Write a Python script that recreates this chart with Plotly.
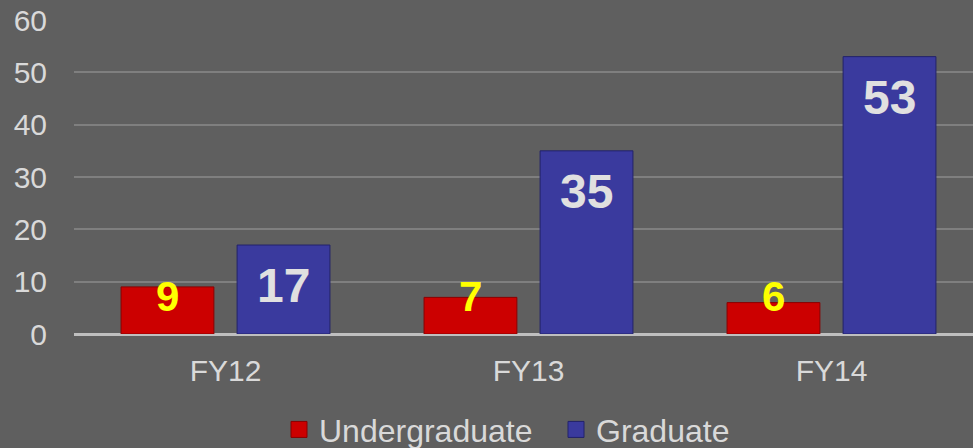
import plotly.graph_objects as go

categories = ["FY12", "FY13", "FY14"]
undergrad = [9, 7, 6]
graduate = [17, 35, 53]
y_ticks = [0, 10, 20, 30, 40, 50, 60]

BARGAP = 0.234
BARGROUPGAP = 0.2
FONT = "Liberation Sans, Arial, sans-serif"
TXT = "#d9d9d9"
RED, RED_EDGE = "#cc0000", "#8a0000"
BLUE, BLUE_EDGE = "#3a3a9e", "#22226a"

fig = go.Figure()
fig.add_trace(go.Bar(
    name="Undergraduate", x=categories, y=undergrad, legendgroup="u", showlegend=False,
    marker=dict(color=RED, line=dict(color=RED_EDGE, width=1)),
))
fig.add_trace(go.Bar(
    name="Graduate", x=categories, y=graduate, legendgroup="g", showlegend=False,
    marker=dict(color=BLUE, line=dict(color=BLUE_EDGE, width=1)),
))
# legend proxies (bigger square keys)
for name, grp, c, e in [("Undergraduate", "u", RED, RED_EDGE), ("Graduate", "g", BLUE, BLUE_EDGE)]:
    fig.add_trace(go.Scatter(
        name=name, x=[None], y=[None], mode="markers", legendgroup=grp,
        marker=dict(symbol="square", size=18, color=c, line=dict(color=e, width=1)),
        hoverinfo="skip",
    ))

slot = (1 - BARGAP) / 2
off = slot / 2

annotations = []
for i, v in enumerate(undergrad):
    annotations.append(dict(
        x=i - off, y=0, xref="x", yref="y", text=str(v), showarrow=False,
        yanchor="bottom", yshift=12,
        font=dict(family=FONT, size=42, color="#ffff00", weight="bold"),
    ))
for i, v in enumerate(graduate):
    annotations.append(dict(
        x=i + off, y=v, xref="x", yref="y", text=str(v), showarrow=False,
        yanchor="top", yshift=-12,
        font=dict(family=FONT, size=48, color="#e0e0e0", weight="bold"),
    ))

fig.update_layout(
    width=973, height=448,
    margin=dict(l=74, r=0, t=20, b=114),
    paper_bgcolor="#5f5f5f", plot_bgcolor="#5f5f5f",
    barmode="group", bargap=BARGAP, bargroupgap=BARGROUPGAP,
    font=dict(family=FONT, size=30, color=TXT),
    showlegend=True,
    legend=dict(
        orientation="h", xref="container", yref="container",
        x=279 / 973, xanchor="left", y=0.041, yanchor="middle",
        font=dict(family=FONT, size=32, color=TXT),
        bgcolor="rgba(0,0,0,0)", itemwidth=30, itemsizing="trace",
        entrywidth=232, entrywidthmode="pixels",
    ),
    annotations=annotations,
    xaxis=dict(
        type="category", range=[-0.5, 2.467],
        showgrid=False, showline=False, zeroline=False,
        tickfont=dict(family=FONT, size=30, color=TXT),
        ticks="", ticklabelstandoff=16,
    ),
    yaxis=dict(
        range=[0, 60], tickvals=y_ticks,
        showgrid=True, gridcolor="#7f7f7f", gridwidth=1.5,
        zeroline=True, zerolinecolor="#bfbfbf", zerolinewidth=2.5,
        showline=False, ticks="",
        tickfont=dict(family=FONT, size=30, color=TXT),
        ticklabelstandoff=26,
    ),
)

fig.write_html(
    "out.html",
    config={"displayModeBar": False},
    post_script="document.body.style.margin='0';document.body.style.background='#5f5f5f';",
)
